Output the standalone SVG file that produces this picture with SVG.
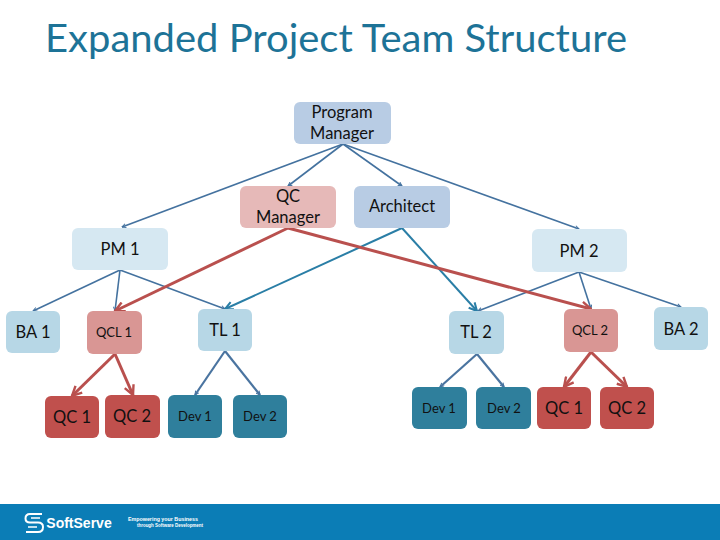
<svg xmlns="http://www.w3.org/2000/svg" width="720" height="540" viewBox="0 0 720 540">
<style>
text{font-family:"Lato","Open Sans","Liberation Sans",sans-serif;text-anchor:middle;fill:#111}
.t{font-size:16.5px}.s{font-size:13px}
.pg{fill:#b8cce4}.pm{fill:#d6e8f2}.qm{fill:#e6b9b8}.ba{fill:#b7d7e6}.ql{fill:#d99694}.qc{fill:#c0504d}.dv{fill:#2f7f9c}
.b{stroke:#44729f;stroke-width:1.6;fill:none;marker-end:url(#ab)}
.c{stroke:#2a7ea6;stroke-width:2;fill:none;marker-end:url(#ac)}
.r{stroke:#b9504e;stroke-width:3;fill:none;marker-end:url(#ar)}
.bd{stroke:#4a74a0;stroke-width:2.2;fill:none;marker-end:url(#ab)}
</style>
<defs>
<marker id="ab" viewBox="0 0 10 10" refX="9" refY="5" markerWidth="5" markerHeight="5" orient="auto" markerUnits="userSpaceOnUse"><path d="M1 1L9 5L1 9" fill="none" stroke="#44729f" stroke-width="2"/></marker>
<marker id="ac" viewBox="0 0 10 10" refX="9" refY="5" markerWidth="10" markerHeight="10" orient="auto" markerUnits="userSpaceOnUse"><path d="M1 1L9 5L1 9" fill="none" stroke="#2a7ea6" stroke-width="2"/></marker>
<marker id="ar" viewBox="0 0 10 10" refX="9" refY="5" markerWidth="12" markerHeight="12" orient="auto" markerUnits="userSpaceOnUse"><path d="M1 1L9 5L1 9" fill="none" stroke="#b9504e" stroke-width="2"/></marker>
</defs>
<rect width="720" height="540" fill="#fff"/>
<text x="336" y="52" style="font-size:38px;fill:#1d7397" textLength="582" lengthAdjust="spacingAndGlyphs">Expanded Project Team Structure</text>
<g id="connectors">
<path class="b" d="M343 144L122 227"/><path class="b" d="M343 144L288 186"/><path class="b" d="M343 144L402 186"/><path class="b" d="M343 144L579 229"/>
<path class="b" d="M120 270L33 311"/><path class="b" d="M120 270L115 311"/><path class="b" d="M120 270L225 309"/>
<path class="b" d="M579 272L478 311"/><path class="b" d="M579 272L591 309"/><path class="b" d="M579 272L681 307"/>
<path class="c" d="M402 228L225 309"/><path class="c" d="M402 228L477 311"/>
<path class="r" d="M288 228L115 311"/><path class="r" d="M288 228L591 309"/>
<path class="r" d="M115 354L72 396"/><path class="r" d="M115 354L133 395"/><path class="r" d="M591 352L564 387"/><path class="r" d="M591 352L627 387"/>
<path class="bd" d="M225 351L195 395"/><path class="bd" d="M225 351L260 395"/><path class="bd" d="M477 354L440 387"/><path class="bd" d="M477 354L504 387"/>
</g>
<g id="program-manager"><rect class="pg" x="294" y="102" width="97" height="42" rx="6"/><text class="t" x="342" y="118">Program</text><text class="t" x="342" y="139">Manager</text></g>
<g id="qc-manager"><rect class="qm" x="240" y="186" width="96" height="42" rx="6"/><text class="t" x="288" y="202">QC</text><text class="t" x="288" y="223">Manager</text></g>
<g id="architect"><rect class="pg" x="354" y="186" width="96" height="42" rx="6"/><text class="t" x="402" y="212">Architect</text></g>
<g id="pm1"><rect class="pm" x="72" y="228" width="96" height="42" rx="6"/><text class="t" x="120" y="255">PM 1</text></g>
<g id="pm2"><rect class="pm" x="532" y="229" width="95" height="43" rx="6"/><text class="t" x="579" y="257">PM 2</text></g>
<g id="ba1"><rect class="ba" x="6" y="311" width="54" height="42" rx="6"/><text class="t" x="33" y="338">BA 1</text></g>
<g id="qcl1"><rect class="ql" x="87" y="311" width="55" height="43" rx="6"/><text class="s" x="114" y="337">QCL 1</text></g>
<g id="tl1"><rect class="ba" x="198" y="309" width="54" height="42" rx="6"/><text class="t" x="225" y="336">TL 1</text></g>
<g id="tl2"><rect class="ba" x="449" y="311" width="55" height="43" rx="6"/><text class="t" x="476" y="338">TL 2</text></g>
<g id="qcl2"><rect class="ql" x="564" y="309" width="54" height="43" rx="6"/><text class="s" x="590" y="335">QCL 2</text></g>
<g id="ba2"><rect class="ba" x="654" y="307" width="54" height="43" rx="6"/><text class="t" x="681" y="335">BA 2</text></g>
<g id="qc1-left"><rect class="qc" x="45" y="396" width="54" height="42" rx="6"/><text class="t" x="72" y="423">QC 1</text></g>
<g id="qc2-left"><rect class="qc" x="105" y="395" width="55" height="43" rx="6"/><text class="t" x="132" y="422">QC 2</text></g>
<g id="dev1-left"><rect class="dv" x="168" y="395" width="54" height="43" rx="6"/><text class="s" x="195" y="421">Dev 1</text></g>
<g id="dev2-left"><rect class="dv" x="233" y="395" width="54" height="43" rx="6"/><text class="s" x="260" y="421">Dev 2</text></g>
<g id="dev1-right"><rect class="dv" x="412" y="387" width="55" height="42" rx="6"/><text class="s" x="439" y="413">Dev 1</text></g>
<g id="dev2-right"><rect class="dv" x="476" y="387" width="55" height="42" rx="6"/><text class="s" x="504" y="413">Dev 2</text></g>
<g id="qc1-right"><rect class="qc" x="537" y="387" width="54" height="42" rx="6"/><text class="t" x="564" y="414">QC 1</text></g>
<g id="qc2-right"><rect class="qc" x="600" y="387" width="54" height="42" rx="6"/><text class="t" x="627" y="414">QC 2</text></g>
<rect x="0" y="504" width="720" height="36" fill="#0b7db6"/>
<path d="M42 514H30Q25.500 514 25.500 518.500Q25.500 522.500 30 522.500H38Q43 522.500 43 527Q43 532 38 532H26" fill="none" stroke="#fff" stroke-width="2"/>
<path d="M40 518H31M28 527H37" fill="none" stroke="#fff" stroke-width="1.500"/>
<text x="79" y="528" style="font-size:14px;font-weight:700;fill:#fff;font-family:'Liberation Sans',sans-serif">SoftServe</text>
<text x="163" y="521" textLength="70" lengthAdjust="spacingAndGlyphs" style="font-size:5px;font-weight:700;fill:#fff;font-family:'Liberation Sans',sans-serif">Empowering your Business</text>
<text x="170" y="527" textLength="66" lengthAdjust="spacingAndGlyphs" style="font-size:5px;font-weight:700;fill:#fff;font-family:'Liberation Sans',sans-serif">through Software Development</text>
</svg>
